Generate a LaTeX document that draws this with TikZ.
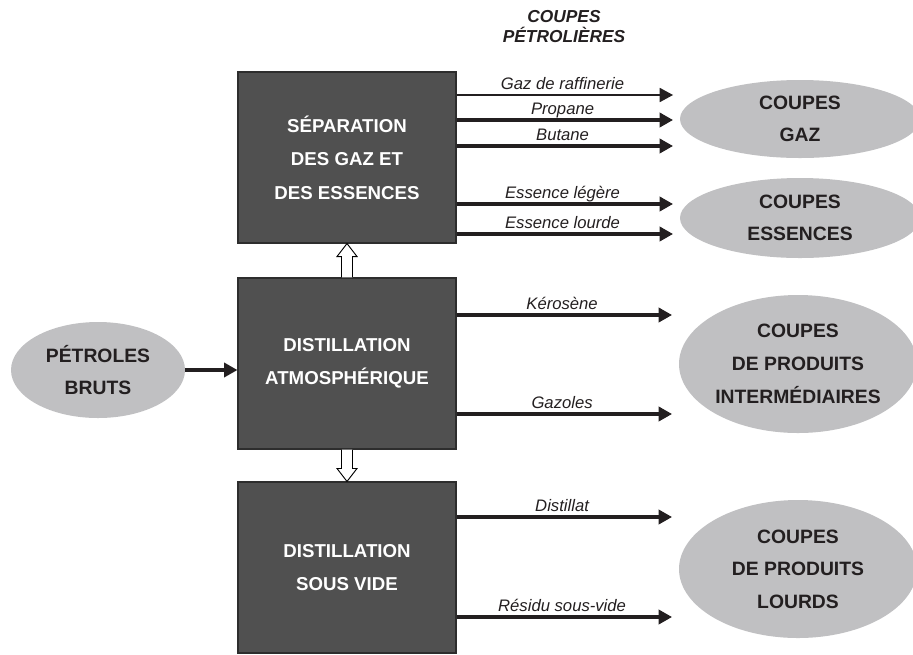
\documentclass[tikz,border=0pt]{standalone}
\usepackage{fontspec}
\setmainfont{Liberation Sans}
\usetikzlibrary{shapes.geometric}
\usetikzlibrary{arrows.meta}
\usetikzlibrary{calc}

\definecolor{boxgray}{RGB}{80,80,80}
\definecolor{boxline}{RGB}{45,45,45}
\definecolor{ellgray}{RGB}{192,192,194}
\definecolor{inkblack}{RGB}{35,31,32}

\begin{document}
\begin{tikzpicture}[x=0.75pt,y=0.75pt,yscale=-1,xscale=1,
  unit/.style={draw=boxline, line width=0.8pt, fill=boxgray, text=white, minimum width=163.5pt, minimum height=128.25pt, align=center, inner sep=0pt, font=\fontsize{14}{25}\selectfont\bfseries},
  cut/.style={ellipse, fill=ellgray, text=inkblack, inner sep=0pt, align=center, font=\fontsize{14.5}{24.5}\selectfont\bfseries},
  flow/.style={draw=inkblack, line width=2.8pt, -{Triangle[length=10pt,width=10.5pt]}},
  thinflow/.style={draw=inkblack, line width=1.2pt, -{Triangle[length=10pt,width=10.5pt]}},
  hollow/.style={draw=black, line width=0.7pt, fill=white, line join=miter},
  lbl/.style={above, pos=0.475, inner sep=0pt, outer sep=4.5pt, text depth=0pt, text=inkblack, font=\fontsize{12.5}{14}\selectfont\itshape}
]
%set diagram to the size of the page
\useasboundingbox (0,0) rectangle (913,654);

%Shape: Rectangle [separation]
\node[unit] (sep) at (347,157.5) {SÉPARATION\\DES GAZ ET\\DES ESSENCES};
%Shape: Rectangle [distillation atmospherique]
\node[unit] (atm) at (347,363.5) {DISTILLATION\\ATMOSPHÉRIQUE};
%Shape: Rectangle [distillation sous vide]
\node[unit] (vide) at (347,567.5) {DISTILLATION\\SOUS VIDE};

%Shape: Ellipse [petroles bruts]
\node[cut, minimum width=130.5pt, minimum height=72pt] (brut) at (98,370) {PÉTROLES\\BRUTS};
%Shape: Ellipse [coupes]
\node[cut, minimum width=180pt, minimum height=58.5pt] (gaz) at (800,119) {COUPES\\GAZ};
\node[cut, minimum width=180pt, minimum height=60pt] (ess) at (800,218) {COUPES\\ESSENCES};
\node[cut, minimum width=178.5pt, minimum height=103.5pt] (inter) at (798,364) {COUPES\\DE PRODUITS\\INTERMÉDIAIRES};
\node[cut, minimum width=178.5pt, minimum height=103.5pt] (lourd) at (798,569) {COUPES\\DE PRODUITS\\LOURDS};

% Text Node
\node[font=\fontsize{13}{15}\selectfont\bfseries\itshape, align=center, text=inkblack] (titre) at (564,27) {COUPES\\PÉTROLIÈRES};

%Straight Lines [entree]
\draw[flow] (brut.east) -- (atm.west |- brut.east);

%Hollow arrow [atm -> sep]
\draw[hollow] ($(atm.north)+(-5.5,0)$) -- ($(sep.south)+(-5.5,13)$) -- ($(sep.south)+(-10,13)$) -- (sep.south)
  -- ($(sep.south)+(10,13)$) -- ($(sep.south)+(5.5,13)$) -- ($(atm.north)+(5.5,0)$);
%Hollow arrow [atm -> vide]
\draw[hollow] ($(atm.south)+(-5.5,0)$) -- ($(vide.north)+(-5.5,-13)$) -- ($(vide.north)+(-10,-13)$) -- (vide.north)
  -- ($(vide.north)+(10,-13)$) -- ($(vide.north)+(5.5,-13)$) -- ($(atm.south)+(5.5,0)$);

%Straight Lines [gaz]
\draw[thinflow, shorten >=5pt] (sep.east |- 0,95) -- (gaz.west |- 0,95) node[lbl] {Gaz de raffinerie};
\draw[flow, shorten >=5pt] (sep.east |- 0,120) -- (gaz.west |- 0,120) node[lbl] {Propane};
\draw[flow, shorten >=5pt] (sep.east |- 0,146) -- (gaz.west |- 0,146) node[lbl] {Butane};
%Straight Lines [essences]
\draw[flow, shorten >=5pt] (sep.east |- 0,204) -- (ess.west |- 0,204) node[lbl] {Essence légère};
\draw[flow, shorten >=5pt] (sep.east |- 0,234) -- (ess.west |- 0,234) node[lbl] {Essence lourde};
%Straight Lines [intermediaires]
\draw[flow, shorten >=5pt] (atm.east |- 0,315) -- (inter.west |- 0,315) node[lbl] {Kérosène};
\draw[flow, shorten >=5pt] (atm.east |- 0,414) -- (inter.west |- 0,414) node[lbl] {Gazoles};
%Straight Lines [lourds]
\draw[flow, shorten >=5pt] (vide.east |- 0,517) -- (lourd.west |- 0,517) node[lbl] {Distillat};
\draw[flow, shorten >=5pt] (vide.east |- 0,617) -- (lourd.west |- 0,617) node[lbl] {Résidu sous-vide};

\end{tikzpicture}
\end{document}
